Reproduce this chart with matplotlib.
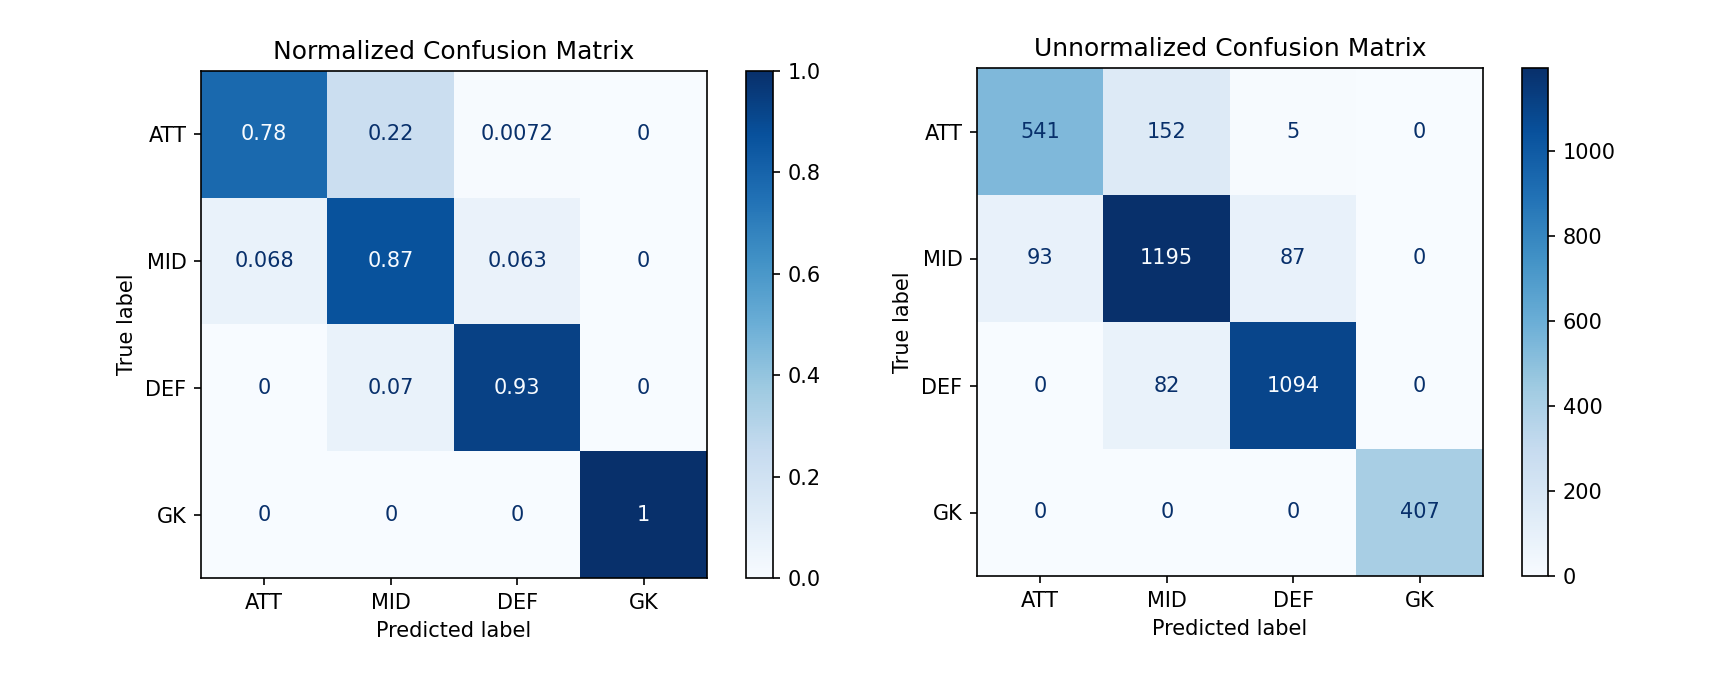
import numpy
import matplotlib
matplotlib.use('Agg')
import matplotlib.pyplot as plt

# Class labels
labels = ['ATT', 'MID', 'DEF', 'GK']

# Normalized confusion matrix (rows = true label)
norm_cm = numpy.array([[0.78, 0.22, 0.0072, 0.0],
                       [0.068, 0.87, 0.063, 0.0],
                       [0.0, 0.07, 0.93, 0.0],
                       [0.0, 0.0, 0.0, 1.0]])

# Raw counts
count_cm = numpy.array([[541, 152, 5, 0],
                        [93, 1195, 87, 0],
                        [0, 82, 1094, 0],
                        [0, 0, 0, 407]])

W, H = 1728.0, 692.0
fig = plt.figure(figsize=(W/150.0, H/150.0), dpi=150, facecolor='white')

def px(x0, y0, x1, y1):
    # pixel box (top-left origin) to figure fraction
    return [x0/W, 1-y1/H, (x1-x0)/W, (y1-y0)/H]

def plot_cm(ax, cax, cm, title, vmin, vmax, fmt, cticks):
    cmap = plt.get_cmap('Blues')
    im = ax.imshow(cm, cmap=cmap, vmin=vmin, vmax=vmax,
                   interpolation='nearest', aspect='auto')
    cmap_min, cmap_max = cmap(0.0), cmap(1.0)
    thresh = (cm.max() + cm.min()) / 2.0
    for i in range(cm.shape[0]):
        for j in range(cm.shape[1]):
            colour = cmap_max if cm[i, j] < thresh else cmap_min
            ax.text(j, i, format(cm[i, j], fmt),
                    ha='center', va='center', color=colour, fontsize=10)
    ax.set_xticks(range(len(labels)))
    ax.set_yticks(range(len(labels)))
    ax.set_xticklabels(labels)
    ax.set_yticklabels(labels)
    ax.set_xlabel('Predicted label')
    ax.set_ylabel('True label')
    ax.set_title(title)
    cb = fig.colorbar(im, cax=cax)
    cb.set_ticks(cticks)
    return cb

ax1 = fig.add_axes(px(201, 71, 707, 578))
cax1 = fig.add_axes(px(746, 71, 773, 578))
plot_cm(ax1, cax1, norm_cm, 'Normalized Confusion Matrix', 0.0, 1.0, '.2g',
        [0.0, 0.2, 0.4, 0.6, 0.8, 1.0])

ax2 = fig.add_axes(px(977, 68, 1483, 576))
cax2 = fig.add_axes(px(1522, 68, 1548, 576))
plot_cm(ax2, cax2, count_cm, 'Unnormalized Confusion Matrix', 0,
        count_cm.max(), 'd', [0, 200, 400, 600, 800, 1000])

fig.savefig('out.png', dpi=150, facecolor='white')
